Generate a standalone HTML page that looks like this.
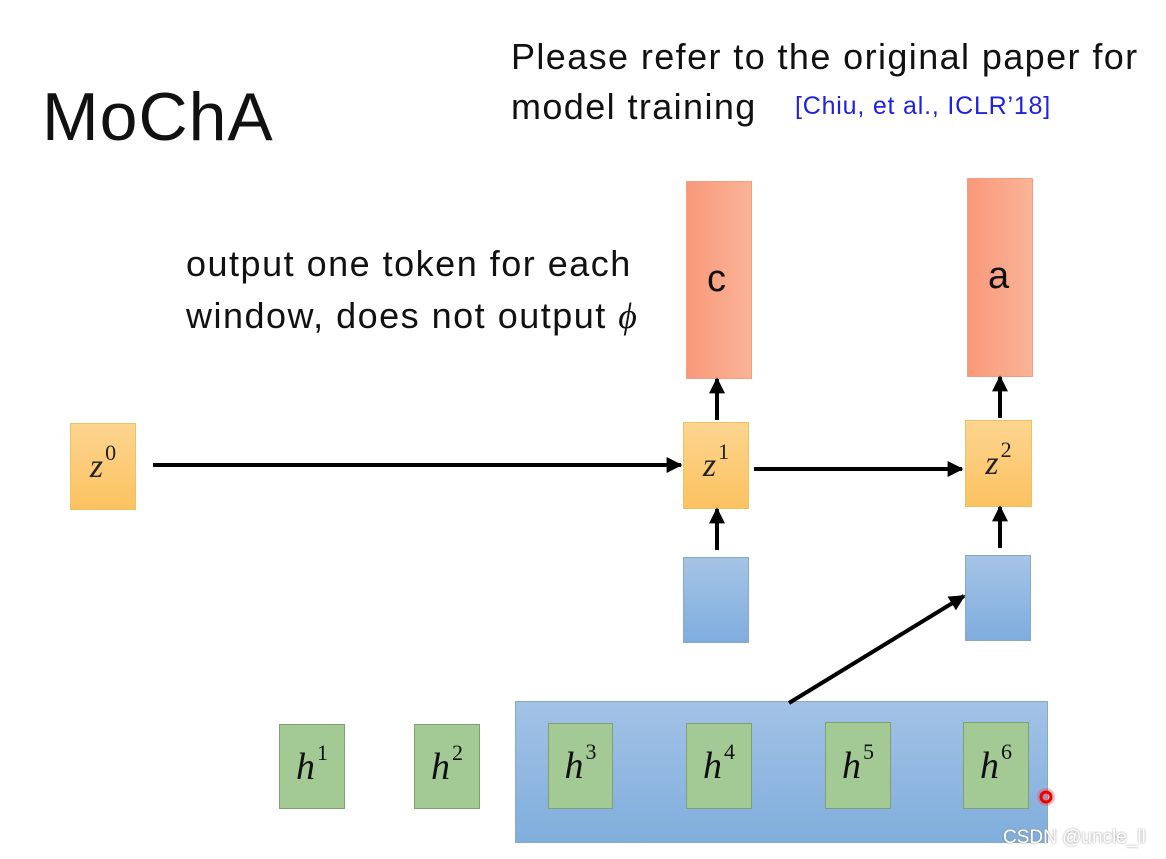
<!DOCTYPE html>
<html><head><meta charset="utf-8"><style>
body{margin:0;width:1166px;height:859px;background:#fff;position:relative;overflow:hidden;font-family:"Liberation Sans",sans-serif}
.a{position:absolute}
.t{position:absolute;white-space:nowrap;color:#111}
.o{background:linear-gradient(90deg,#f9987a,#fbb497);border:1px solid #f0a080}
.y{background:linear-gradient(180deg,#fdd590,#fbc260);border:1px solid #f2c060;display:flex;align-items:center;justify-content:center;font-family:"Liberation Serif",serif;font-size:34px;color:#222}
.b{background:linear-gradient(180deg,#a5c4e6,#7fadde);border:1px solid #8ab}
.g{background:#a3c995;border:1px solid #7fa070;display:flex;align-items:center;justify-content:center;font-family:"Liberation Serif",serif;font-size:38px;color:#111}
.y span,.g span{font-style:italic}
sup{font-style:normal;font-size:22px;position:relative;top:-14px;vertical-align:baseline;margin-left:2px}
</style></head><body>
<div class="t" style="left:42px;top:78px;font-size:68px;letter-spacing:1px">MoChA</div>
<div class="t" style="left:511px;top:36px;font-size:36px;letter-spacing:1.4px">Please refer to the original paper for</div>
<div class="t" style="left:511px;top:86px;font-size:36px;letter-spacing:1.4px">model training</div>
<div class="t" style="left:795px;top:92px;font-size:25px;color:#2020e0;letter-spacing:0.8px">[Chiu, et al., ICLR’18]</div>
<div class="t" style="left:186px;top:238px;font-size:36px;line-height:52px;letter-spacing:1.5px">output one token for each<br>window, does not output <i style="font-family:'Liberation Serif',serif">ϕ</i></div>
<div class="a o" style="left:686px;top:181px;width:64px;height:196px"></div>
<div class="t" style="left:707px;top:258px;font-size:38px">c</div>
<div class="a o" style="left:967px;top:178px;width:64px;height:197px"></div>
<div class="t" style="left:988px;top:255px;font-size:38px">a</div>
<div class="a y" style="left:70px;top:423px;width:64px;height:85px"><span>z</span><sup>0</sup></div>
<div class="a y" style="left:683px;top:422px;width:64px;height:85px"><span>z</span><sup>1</sup></div>
<div class="a y" style="left:965px;top:420px;width:65px;height:85px"><span>z</span><sup>2</sup></div>
<div class="a b" style="left:683px;top:557px;width:64px;height:84px"></div>
<div class="a b" style="left:965px;top:555px;width:64px;height:84px"></div>
<div class="a b" style="left:515px;top:701px;width:531px;height:140px;background:linear-gradient(180deg,#a3c2e6,#80aedd)"></div>
<div class="a g" style="left:279px;top:724px;width:64px;height:83px"><span>h</span><sup>1</sup></div>
<div class="a g" style="left:414px;top:724px;width:64px;height:83px"><span>h</span><sup>2</sup></div>
<div class="a g" style="left:548px;top:723px;width:63px;height:84px"><span>h</span><sup>3</sup></div>
<div class="a g" style="left:686px;top:723px;width:64px;height:84px"><span>h</span><sup>4</sup></div>
<div class="a g" style="left:825px;top:722px;width:64px;height:85px"><span>h</span><sup>5</sup></div>
<div class="a g" style="left:963px;top:722px;width:64px;height:85px"><span>h</span><sup>6</sup></div>
<svg class="a" style="left:0;top:0" width="1166" height="859">
<defs>
<marker id="k" viewBox="0 0 10 10" markerWidth="16" markerHeight="16" refX="9" refY="5" orient="auto" markerUnits="userSpaceOnUse"><path d="M0,0 L10,5 L0,10 z" fill="#000"/></marker></defs>
<g stroke="#000" stroke-width="4" fill="none" marker-end="url(#k)">
<line x1="153" y1="465" x2="681" y2="465"/>
<line x1="754" y1="469" x2="962" y2="469"/>
<line x1="717" y1="420" x2="717" y2="379"/>
<line x1="717" y1="550" x2="717" y2="509"/>
<line x1="1000" y1="418" x2="1000" y2="377"/>
<line x1="1000" y1="548" x2="1000" y2="507"/>
<line x1="789" y1="703" x2="964" y2="596"/>
</g>
<circle cx="1046" cy="797" r="9" fill="#ff4040" opacity="0.35"/>
<circle cx="1046" cy="797" r="5" fill="none" stroke="#e00" stroke-width="3"/>
</svg>
<div class="t" style="left:1003px;top:827px;font-size:19px;color:#fff;text-shadow:0 0 2px #888">CSDN @uncle_ll</div>
</body></html>
